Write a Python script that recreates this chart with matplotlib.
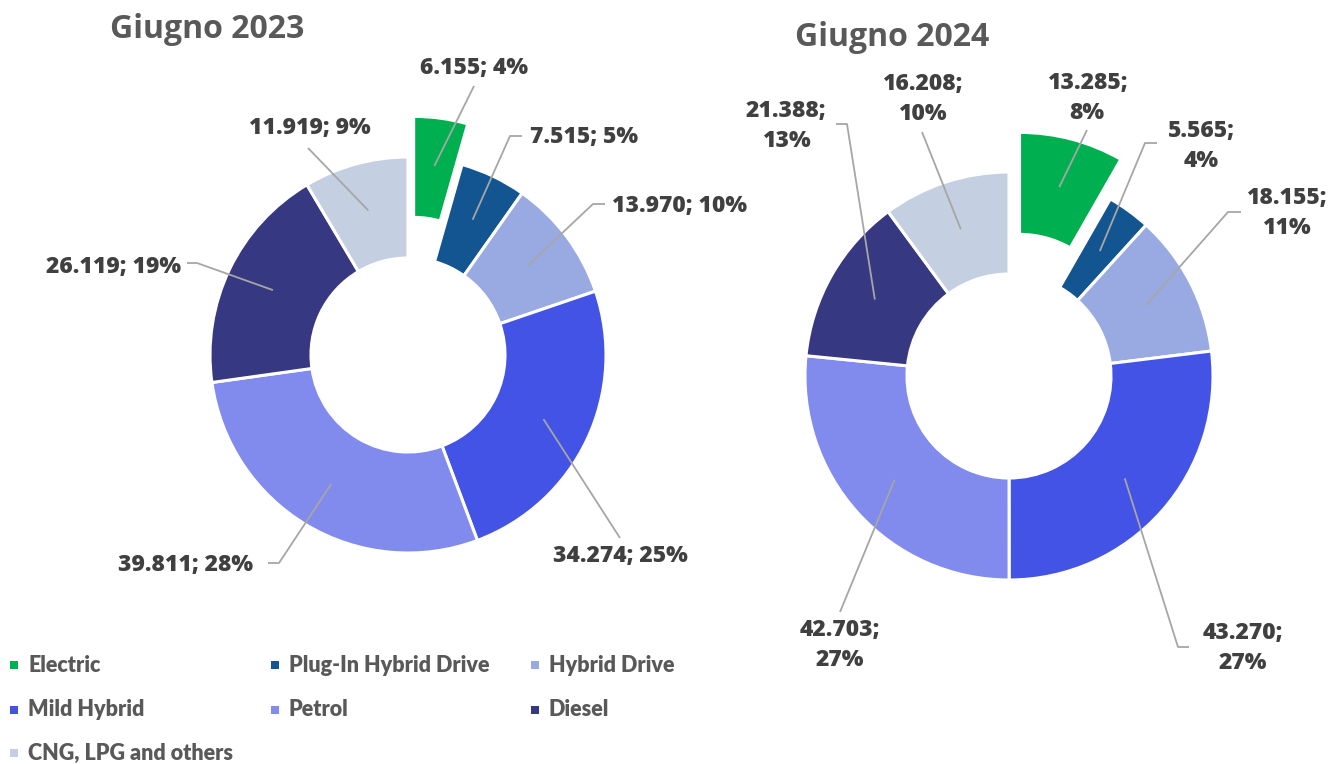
import matplotlib
matplotlib.use("Agg")
import matplotlib.pyplot as plt
import numpy as np

# ---- data ----
categories = ["Electric", "Plug-In Hybrid Drive", "Hybrid Drive", "Mild Hybrid",
              "Petrol", "Diesel", "CNG, LPG and others"]
values_2023 = [6155, 7515, 13970, 34274, 39811, 26119, 11919]
pct_2023 = [4, 5, 10, 25, 28, 19, 9]
values_2024 = [13285, 5565, 18155, 43270, 42703, 21388, 16208]
pct_2024 = [8, 4, 11, 27, 27, 13, 10]
titles = ["Giugno 2023", "Giugno 2024"]
colors = ["#00B050", "#125590", "#99A9E1", "#4253E5", "#818BEE", "#373882", "#C4CFE2"]

W, H = 1329, 764
fig = plt.figure(figsize=(W / 100, H / 100), dpi=100)
ax = fig.add_axes([0, 0, 1, 1])
ax.set_xlim(0, W)
ax.set_ylim(0, H)
ax.set_aspect("equal")
ax.axis("off")

def py(y):
    return H - y

LABEL_FONT = dict(family="Open Sans", weight="heavy", color="#404040", fontsize=16.5)
LINE_COLOR = "#A6A6A6"

def fmt_num(v):
    return f"{v:,}".replace(",", ".")

def draw_donut(values, pcts, center, radius, inner_frac, explode_px, label_specs, multiline):
    cx, cy = center
    explode = [explode_px] + [0] * (len(values) - 1)
    ax.pie(values, colors=colors, startangle=90, counterclock=False,
           center=(cx, py(cy)), radius=radius, explode=explode,
           wedgeprops=dict(width=radius * (1 - inner_frac),
                           edgecolor="white", linewidth=2.2),
           frame=True)
    total = sum(values)
    cum = 0
    for i, v in enumerate(values):
        mid = 90 - 360 * (cum + v / 2) / total
        cum += v
        th = np.deg2rad(mid)
        r_anchor = radius * 0.757 + (explode_px if i == 0 else 0)
        ax_x = cx + r_anchor * np.cos(th)
        ax_y = py(cy) + r_anchor * np.sin(th)
        sep = ";\n" if multiline else "; "
        label = f"{fmt_num(v)}{sep}{pcts[i]}%"
        (tx, ty), path = label_specs[i]
        pts = [(ax_x, ax_y)] + [(px, py(pyy)) for px, pyy in path]
        ax.plot([p[0] for p in pts], [p[1] for p in pts], color=LINE_COLOR, lw=1.3,
                solid_capstyle="butt", zorder=5)
        ax.text(tx, py(ty), label, ha="center", va="center", linespacing=1.3,
                zorder=6, **LABEL_FONT)
    ax.set_xlim(0, W)
    ax.set_ylim(0, H)

# label positions (pixel centres) and leader-line paths
left_specs = [
    ((474, 68), [(474, 86)]),
    ((584, 137), [(510, 136), (522, 136)]),
    ((679, 206), [(593, 204), (605, 204)]),
    ((620, 556), [(620, 538)]),
    ((186, 565), [(279, 563), (268, 563)]),
    ((113, 267), [(197, 263), (187, 263)]),
    ((310, 128), [(308, 148)]),
]
right_specs = [
    ((1087, 98), [(1087, 130)]),
    ((1201, 146), [(1145, 143), (1157, 143)]),
    ((1286, 213), [(1228, 212), (1241, 212)]),
    ((1243, 648), [(1178, 647), (1189, 647)]),
    ((840, 645), [(840, 612)]),
    ((786, 126), [(847, 124), (836, 124)]),
    ((922, 99), [(922, 132)]),
]

draw_donut(values_2023, pct_2023, (408, 355), 198, 0.49, 41, left_specs, False)
draw_donut(values_2024, pct_2024, (1009, 376), 204, 0.50, 41, right_specs, True)

TITLE_FONT = dict(family="Open Sans", weight="bold", color="#595959", fontsize=23)
ax.text(207, py(30), titles[0], ha="center", va="center", **TITLE_FONT)
ax.text(892, py(37), titles[1], ha="center", va="center", **TITLE_FONT)

# legend
leg_cols = [14, 275, 535]
leg_rows = [665, 710, 753]
for i, (cat, col) in enumerate(zip(categories, colors)):
    r, c = divmod(i, 3)
    x = leg_cols[c]
    y = leg_rows[r]
    ax.add_patch(plt.Rectangle((x - 4, py(y) - 4), 8, 8, color=col, lw=0))
    ax.text(x + 14, py(y), cat, ha="left", va="center", family="Lato",
            weight="heavy", color="#595959", fontsize=15.5)

fig.savefig("out.png", dpi=100)
